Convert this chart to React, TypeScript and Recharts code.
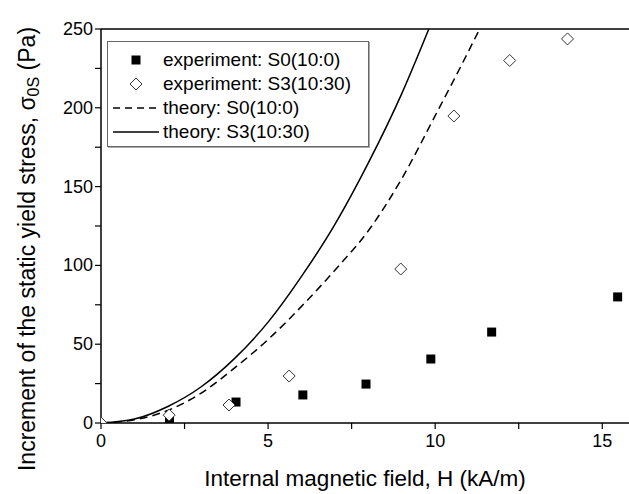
import React from 'react'
import {
  ComposedChart,
  Line,
  Scatter,
  XAxis,
  YAxis,
  ReferenceLine,
  Label,
} from 'recharts'

const FONT = '"Liberation Sans", Arial, sans-serif'

const expS0 = [
  { x: 2.05, y: 2 },
  { x: 4.04, y: 13.3 },
  { x: 6.04, y: 17.8 },
  { x: 7.93, y: 24.7 },
  { x: 9.87, y: 40.6 },
  { x: 11.69, y: 57.7 },
  { x: 15.46, y: 80 },
]

const expS3 = [
  { x: 0, y: 0 },
  { x: 2.04, y: 5 },
  { x: 3.83, y: 11.4 },
  { x: 5.63, y: 29.8 },
  { x: 8.97, y: 97.7 },
  { x: 10.56, y: 194.8 },
  { x: 12.23, y: 230 },
  { x: 13.96, y: 243.7 },
]

// theory curves
const theoryS0 = [
  { x: 0, y: 0 },
  { x: 1, y: 2 },
  { x: 2, y: 8 },
  { x: 3, y: 19 },
  { x: 4, y: 35 },
  { x: 5, y: 53 },
  { x: 6, y: 74 },
  { x: 7, y: 97 },
  { x: 8, y: 122 },
  { x: 9, y: 155 },
  { x: 10, y: 195 },
  { x: 11, y: 236 },
  { x: 11.33, y: 250 },
]

const theoryS3 = [
  { x: 0, y: 0 },
  { x: 1, y: 2.5 },
  { x: 2, y: 10.5 },
  { x: 3, y: 23 },
  { x: 4, y: 41 },
  { x: 5, y: 64 },
  { x: 6, y: 93 },
  { x: 7, y: 126 },
  { x: 8, y: 165 },
  { x: 9, y: 209 },
  { x: 9.81, y: 250 },
]

const xTicks = [0, 2.5, 5, 7.5, 10, 12.5, 15]
const yTicks = [0, 25, 50, 75, 100, 125, 150, 175, 200, 225, 250]

function XTick(props: any) {
  const { x, y, payload } = props
  if (payload.value % 5 !== 0) return null
  return (
    <text x={x} y={y} dy={16} textAnchor="middle" fontSize={18} fontFamily={FONT} fill="#000">
      {payload.value}
    </text>
  )
}

function YTick(props: any) {
  const { x, y, payload } = props
  if (payload.value % 50 !== 0) return null
  return (
    <text x={x} y={y} dy={6} textAnchor="end" fontSize={18} fontFamily={FONT} fill="#000">
      {payload.value}
    </text>
  )
}

function Square(props: any) {
  const { cx, cy } = props
  return <rect x={cx - 4.5} y={cy - 4.5} width={9} height={9} fill="#000" />
}

function Diamond(props: any) {
  const { cx, cy } = props
  const r = 6
  return (
    <polygon
      points={`${cx},${cy - r} ${cx + r},${cy} ${cx},${cy + r} ${cx - r},${cy}`}
      fill="#fff"
      stroke="#333"
      strokeWidth={1}
    />
  )
}

function LegendBox() {
  const row = { display: 'flex', alignItems: 'center', height: 24 }
  const icon = { width: 55, display: 'flex', justifyContent: 'center' }
  return (
    <div
      style={{
        position: 'absolute',
        left: 107,
        top: 41,
        border: '1px solid #666',
        boxShadow: '1px 1px 0 #aaa',
        background: '#fff',
        padding: '6px 0 6px 0',
        fontFamily: FONT,
        fontSize: 19,
        lineHeight: '24px',
        boxSizing: 'border-box',
        width: 262,
        height: 106,
      }}
    >
      <div style={row}>
        <div style={icon}>
          <svg width={12} height={12}>
            <rect x={1.5} y={1.5} width={9} height={9} fill="#000" />
          </svg>
        </div>
        experiment: S0(10:0)
      </div>
      <div style={row}>
        <div style={icon}>
          <svg width={14} height={14}>
            <polygon points="7,1 13,7 7,13 1,7" fill="#fff" stroke="#333" />
          </svg>
        </div>
        experiment: S3(10:30)
      </div>
      <div style={row}>
        <div style={icon}>
          <svg width={46} height={4}>
            <line x1={0} y1={2} x2={46} y2={2} stroke="#000" strokeWidth={1.5} strokeDasharray="7 5" />
          </svg>
        </div>
        theory: S0(10:0)
      </div>
      <div style={row}>
        <div style={icon}>
          <svg width={46} height={4}>
            <line x1={0} y1={2} x2={46} y2={2} stroke="#000" strokeWidth={1.5} />
          </svg>
        </div>
        theory: S3(10:30)
      </div>
    </div>
  )
}

function YTitle() {
  return (
    <text
      x={29}
      y={249}
      transform="rotate(-90, 29, 249)"
      textAnchor="middle"
      dominantBaseline="middle"
      fontSize={23}
      fontFamily={FONT}
      fill="#000"
    >
      Increment of the static yield stress, σ
      <tspan fontSize={16} dy={6}>0S</tspan>
      <tspan dy={-6}> (Pa)</tspan>
    </text>
  )
}

export default function App() {
  return (
    <div style={{ position: 'absolute', left: 0, top: 0, width: 629, height: 494, background: '#fff' }}>
      <ComposedChart
        width={629}
        height={494}
        margin={{ top: 29, right: 0, bottom: 0, left: 0 }}
      >
        <XAxis
          type="number"
          dataKey="x"
          domain={[0, 15.8]}
          ticks={xTicks}
          allowDataOverflow
          tickSize={6}
          height={71}
          axisLine={{ stroke: '#000', strokeWidth: 1.5 }}
          tickLine={{ stroke: '#000', strokeWidth: 1.2 }}
          tick={<XTick />}
        >
          <Label
            value="Internal magnetic field, H (kA/m)"
            position="insideBottom"
            offset={8}
            style={{ fontSize: 22.5, fontFamily: FONT, fill: '#000' }}
          />
        </XAxis>
        <YAxis
          type="number"
          dataKey="y"
          domain={[0, 250]}
          ticks={yTicks}
          allowDataOverflow
          width={101}
          tickSize={6}
          axisLine={{ stroke: '#000', strokeWidth: 1.5 }}
          tickLine={{ stroke: '#000', strokeWidth: 1.2 }}
          tick={<YTick />}
        >
          <Label content={<YTitle />} />
        </YAxis>
        <ReferenceLine y={250} stroke="#000" strokeWidth={1.5} />
        <Line
          data={theoryS0}
          dataKey="y"
          type="monotone"
          stroke="#000"
          strokeWidth={1.5}
          strokeDasharray="8 5"
          dot={false}
          isAnimationActive={false}
        />
        <Line
          data={theoryS3}
          dataKey="y"
          type="monotone"
          stroke="#000"
          strokeWidth={1.5}
          dot={false}
          isAnimationActive={false}
        />
        <Scatter data={expS0} dataKey="y" shape={<Square />} isAnimationActive={false} />
        <Scatter data={expS3} dataKey="y" shape={<Diamond />} isAnimationActive={false} />
      </ComposedChart>
      <LegendBox />
    </div>
  )
}
